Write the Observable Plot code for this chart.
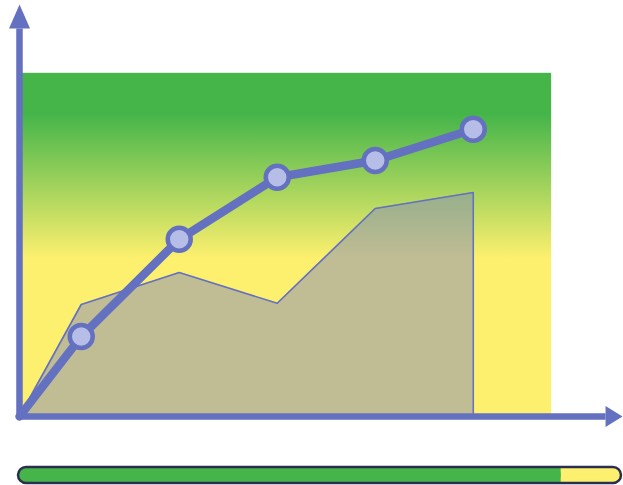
<!DOCTYPE html>
<html>
<head>
<meta charset="utf-8">
<script src="https://cdn.jsdelivr.net/npm/d3@7"></script>
<script src="https://cdn.jsdelivr.net/npm/@observablehq/plot@0.6"></script>
<style>
  html, body { margin: 0; padding: 0; background: #fff; }
  svg { display: block; }
</style>
</head>
<body>
<div id="chart"></div>
<script>
// ---- data ----
const xOrigin = 0.37;
const steps = [xOrigin, 1, 2, 3, 4, 5];
const lineValues = [0, 2.0, 4.43, 5.98, 6.4, 7.18];
const areaValues = [0, 2.8, 3.6, 2.83, 5.2, 5.6];
const backdropX = [xOrigin, 5.8];
const backdropY = [0, 8.58];
const axisTopY = 9.7;
const axisEndX = 6.35;
const progress = [90];          // percent complete
const progressMax = [100];

// ---- styles ----
const blue = "#6470c0";
const dotFill = "#b6bde6";
const green = "#45b54a";
const yellow = "#fdf06e";

const lineData = steps.map((x, i) => ({x, y: lineValues[i]}));
const areaData = steps.map((x, i) => ({x, y: areaValues[i]}));
const axisPath = [{x: xOrigin, y: axisTopY}, {x: xOrigin, y: 0}, {x: axisEndX, y: 0}];

const arrowUp = {draw(ctx) { ctx.moveTo(0, -24); ctx.lineTo(10.5, 0); ctx.lineTo(-10.5, 0); ctx.closePath(); }};
const arrowRight = {draw(ctx) { ctx.moveTo(17, 0); ctx.lineTo(0, -10.5); ctx.lineTo(0, 10.5); ctx.closePath(); }};

const main = Plot.plot({
  width: 623,
  height: 440,
  marginLeft: 19,
  marginRight: 16,
  marginTop: 16,
  marginBottom: 24,
  x: {domain: [xOrigin, xOrigin + 6], axis: null},
  y: {domain: [0, 10], axis: null},
  style: {background: "transparent", overflow: "visible"},
  marks: [
    Plot.rect([{x1: backdropX[0], x2: backdropX[1], y1: backdropY[0], y2: backdropY[1]}],
      {x1: "x1", x2: "x2", y1: "y1", y2: "y2", fill: "url(#bggrad)"}),
    Plot.areaY(areaData, {x: "x", y: "y", fill: "#8389ba", fillOpacity: 0.5}),
    Plot.line(areaData.concat([{x: steps[steps.length - 1], y: 0}]),
      {x: "x", y: "y", stroke: blue, strokeWidth: 1.6}),
    Plot.line(axisPath, {x: "x", y: "y", stroke: blue, strokeWidth: 6.5, strokeLinejoin: "miter", strokeLinecap: "butt"}),
    Plot.dot([{x: xOrigin, y: axisTopY}], {x: "x", y: "y", symbol: arrowUp, fill: blue, stroke: "none", r: 10}),
    Plot.dot([{x: axisEndX, y: 0}], {x: "x", y: "y", symbol: arrowRight, fill: blue, stroke: "none", r: 10}),
    Plot.line(lineData, {x: "x", y: "y", stroke: blue, strokeWidth: 8.5, strokeLinejoin: "round", strokeLinecap: "round"}),
    Plot.dot(lineData.slice(1), {x: "x", y: "y", r: 11.5, fill: dotFill, stroke: blue, strokeWidth: 4.5})
  ]
});

// gradient definition for the backdrop
const defs = d3.select(main).insert("defs", ":first-child");
const grad = defs.append("linearGradient").attr("id", "bggrad")
  .attr("x1", 0).attr("y1", 0).attr("x2", 0).attr("y2", 1);
[[0, green], [0.12, green], [0.54, yellow], [1, yellow]].forEach(([o, c]) =>
  grad.append("stop").attr("offset", o).attr("stop-color", c));

const bar = Plot.plot({
  width: 623,
  height: 45,
  marginLeft: 18,
  marginRight: 2,
  marginTop: 27,
  marginBottom: 2,
  x: {domain: [0, progressMax[0]], axis: null},
  y: {axis: null},
  style: {background: "transparent", overflow: "visible"},
  marks: [
    Plot.rect([{a: 0, b: progressMax[0]}], {x1: "a", x2: "b", fill: yellow, rx: 8}),
    Plot.rect([{a: 0, b: progress[0]}], {x1: "a", x2: "b", fill: green, rx: 8}),
    Plot.rect([{a: progress[0] - 5, b: progress[0]}], {x1: "a", x2: "b", fill: green}),
    Plot.rect([{a: 0, b: progressMax[0]}], {x1: "a", x2: "b", fill: "none", stroke: "#2b2e4e", strokeWidth: 2.5, rx: 8})
  ]
});

const root = document.getElementById("chart");
root.appendChild(main);
root.appendChild(bar);
</script>
</body>
</html>
